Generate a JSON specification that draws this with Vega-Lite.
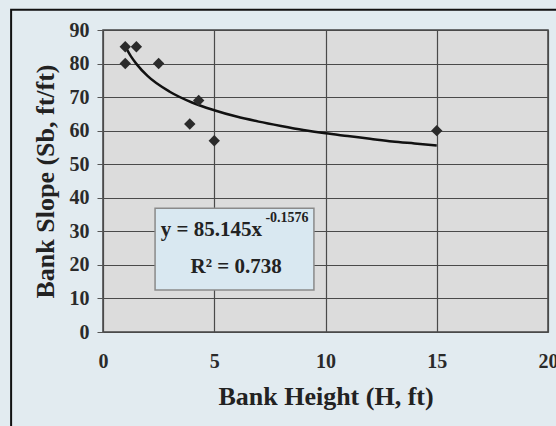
{
  "$schema": "https://vega.github.io/schema/vega-lite/v6.json",
  "width": 445,
  "height": 302,
  "autosize": {"type": "none"},
  "padding": {"left": 103, "top": 30, "right": 8, "bottom": 94},
  "background": "#e2ebf0",
  "config": {
    "view": {"fill": "#dcdcdc", "stroke": "#444", "strokeWidth": 1.5},
    "font": "Liberation Serif",
    "axis": {
      "grid": true, "gridColor": "#4a4a4a", "gridWidth": 1.2, "domain": false,
      "labelFontSize": 20, "labelFontWeight": "bold", "labelColor": "#2a2a2a",
      "labelFont": "Liberation Serif", "labelFlush": false, "labelOverlap": false,
      "titleFont": "Liberation Serif", "titleFontSize": 26, "titleFontWeight": "bold", "titleColor": "#222"
    },
    "axisX": {"tickCount": 5, "ticks": false, "labelPadding": 19, "titlePadding": 12},
    "axisY": {"tickCount": 10, "tickSize": 6, "tickColor": "#555", "labelPadding": 8, "titlePadding": 11}
  },
  "datasets": {
    "points": [
      {"H": 1, "Sb": 85},
      {"H": 1.5, "Sb": 85},
      {"H": 1, "Sb": 80},
      {"H": 2.5, "Sb": 80},
      {"H": 4.3, "Sb": 69},
      {"H": 3.9, "Sb": 62},
      {"H": 5, "Sb": 57},
      {"H": 15, "Sb": 60}
    ],
    "trend": [
      {"H": 1, "Sb": 85.1},
      {"H": 1.25, "Sb": 82.2},
      {"H": 1.5, "Sb": 79.9},
      {"H": 2, "Sb": 76.3},
      {"H": 3, "Sb": 71.6},
      {"H": 4, "Sb": 68.4},
      {"H": 5, "Sb": 66.1},
      {"H": 6, "Sb": 64.2},
      {"H": 7, "Sb": 62.7},
      {"H": 8, "Sb": 61.4},
      {"H": 9, "Sb": 60.2},
      {"H": 10, "Sb": 59.2},
      {"H": 11, "Sb": 58.4},
      {"H": 12, "Sb": 57.6},
      {"H": 13, "Sb": 56.8},
      {"H": 14, "Sb": 56.2},
      {"H": 15, "Sb": 55.6}
    ],
    "one": [{"k": 1}]
  },
  "layer": [
    {
      "data": {"name": "trend"},
      "mark": {"type": "line", "color": "#111", "strokeWidth": 2.5, "interpolate": "monotone"},
      "encoding": {
        "x": {
          "field": "H", "type": "quantitative",
          "scale": {"domain": [0, 20], "nice": false},
          "axis": {"values": [0, 5, 10, 15, 20], "title": "Bank Height (H, ft)"}
        },
        "y": {
          "field": "Sb", "type": "quantitative",
          "scale": {"domain": [0, 90], "nice": false},
          "axis": {"values": [0, 10, 20, 30, 40, 50, 60, 70, 80, 90], "title": "Bank Slope (Sb, ft/ft)"}
        }
      }
    },
    {
      "data": {"name": "points"},
      "mark": {"type": "point", "shape": "diamond", "filled": true, "color": "#2b2b2b", "size": 130, "opacity": 1},
      "encoding": {
        "x": {"field": "H", "type": "quantitative"},
        "y": {"field": "Sb", "type": "quantitative"}
      }
    },
    {
      "data": {"name": "one"},
      "mark": {"type": "rect", "fill": "#d9e8f1", "stroke": "#8a8a8a", "strokeWidth": 1.5},
      "encoding": {
        "x": {"datum": 2.34, "type": "quantitative"},
        "x2": {"datum": 9.48},
        "y": {"datum": 12.5, "type": "quantitative"},
        "y2": {"datum": 36.9}
      }
    },
    {
      "data": {"name": "one"},
      "mark": {"type": "text", "text": "y = 85.145x", "font": "Liberation Serif", "fontSize": 21, "fontWeight": "bold", "align": "left", "baseline": "middle", "color": "#222"},
      "encoding": {
        "x": {"datum": 2.6, "type": "quantitative"},
        "y": {"datum": 30.3, "type": "quantitative"}
      }
    },
    {
      "data": {"name": "one"},
      "mark": {"type": "text", "text": "-0.1576", "font": "Liberation Serif", "fontSize": 14, "fontWeight": "bold", "align": "left", "baseline": "middle", "color": "#222"},
      "encoding": {
        "x": {"datum": 7.3, "type": "quantitative"},
        "y": {"datum": 34.0, "type": "quantitative"}
      }
    },
    {
      "data": {"name": "one"},
      "mark": {"type": "text", "text": "R² = 0.738", "font": "Liberation Serif", "fontSize": 21, "fontWeight": "bold", "align": "center", "baseline": "middle", "color": "#222"},
      "encoding": {
        "x": {"datum": 5.98, "type": "quantitative"},
        "y": {"datum": 19.3, "type": "quantitative"}
      }
    },
    {
      "data": {"name": "one"},
      "mark": {"type": "rect", "fill": null, "stroke": "#111", "strokeWidth": 2, "clip": false},
      "encoding": {
        "x": {"datum": -4.13, "type": "quantitative"},
        "x2": {"datum": 25},
        "y": {"datum": -40, "type": "quantitative"},
        "y2": {"datum": 96.0}
      }
    }
  ]
}
